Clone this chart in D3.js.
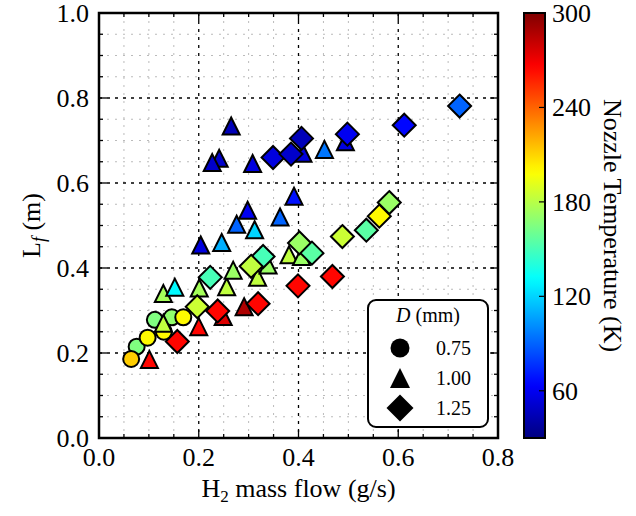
<!DOCTYPE html>
<html><head><meta charset="utf-8">
<script src="https://cdn.jsdelivr.net/npm/d3@7"></script>
<style>body{margin:0;background:#fff}svg{display:block}text{font-family:"Liberation Serif","Times New Roman",serif;fill:#000}</style>
</head><body><svg id="c" width="636" height="516"></svg>
<script>
// D = 0.75 mm (circles)
const circleFlow = [0.0755, 0.0645, 0.112, 0.0975, 0.130, 0.146, 0.169];
const circleLf   = [0.215, 0.186, 0.278, 0.236, 0.250, 0.284, 0.284];
const circleTemp = [165, 212, 165, 200, 200, 170, 200];
// D = 1.00 mm (triangles)
const triFlow = [0.101, 0.129, 0.129, 0.152, 0.200, 0.201, 0.204, 0.241, 0.227, 0.246, 0.249, 0.256, 0.265, 0.269, 0.276, 0.291, 0.298, 0.308, 0.312, 0.318, 0.339, 0.363, 0.381, 0.391, 0.406, 0.409, 0.452, 0.494];
const triLf   = [0.185, 0.270, 0.340, 0.355, 0.262, 0.353, 0.454, 0.658, 0.648, 0.460, 0.286, 0.356, 0.734, 0.395, 0.503, 0.309, 0.536, 0.646, 0.490, 0.378, 0.407, 0.520, 0.431, 0.569, 0.427, 0.670, 0.679, 0.697];
const triTemp = [265, 182, 175, 130, 265, 175, 55, 50, 50, 110, 275, 182, 45, 172, 90, 288, 60, 55, 120, 182, 172, 90, 182, 68, 172, 55, 95, 55];
// D = 1.25 mm (diamonds)
const diaFlow = [0.157, 0.197, 0.223, 0.238, 0.329, 0.305, 0.319, 0.406, 0.349, 0.385, 0.399, 0.402, 0.427, 0.468, 0.488, 0.498, 0.536, 0.562, 0.582, 0.612, 0.723];
const diaLf   = [0.227, 0.309, 0.378, 0.299, 0.427, 0.404, 0.316, 0.705, 0.660, 0.668, 0.358, 0.459, 0.435, 0.380, 0.474, 0.715, 0.489, 0.522, 0.554, 0.736, 0.781];
const diaTemp = [265, 185, 150, 265, 150, 182, 265, 45, 55, 50, 265, 172, 155, 265, 185, 60, 155, 200, 172, 65, 90];

const xTicks = [0.0, 0.2, 0.4, 0.6, 0.8];
const yTicks = [0.0, 0.2, 0.4, 0.6, 0.8, 1.0];
const cTicks = [60, 120, 180, 240, 300];
const legendLabels = ["0.75", "1.00", "1.25"];

const svg = d3.select("#c");
const L = 99, R = 498, T = 13, B = 438;
const x = d3.scaleLinear().domain([0, 0.8]).range([L, R]);
const y = d3.scaleLinear().domain([0, 1]).range([B, T]);
const tMin = 30, tMax = 300;
function jet(v) {
  const t = Math.max(0, Math.min(1, (v - tMin) / (tMax - tMin)));
  const cl = u => Math.max(0, Math.min(1, u));
  const r = cl(1.5 - Math.abs(4 * t - 3)), g = cl(1.5 - Math.abs(4 * t - 2)), b = cl(1.5 - Math.abs(4 * t - 1));
  return d3.rgb(r * 255, g * 255, b * 255).toString();
}

// grids
const minorX = d3.range(0, 0.8001, 0.05).filter(v => Math.abs(v / 0.2 - Math.round(v / 0.2)) > 1e-6);
const minorY = d3.range(0, 1.0001, 0.05).filter(v => Math.abs(v / 0.2 - Math.round(v / 0.2)) > 1e-6);
const g = svg.append("g");
g.selectAll(".mgx").data(minorX).join("line").attr("x1", d => x(d)).attr("x2", d => x(d)).attr("y1", T).attr("y2", B)
  .attr("stroke", "#bbb").attr("stroke-width", 1).attr("stroke-dasharray", "2,6");
g.selectAll(".mgy").data(minorY).join("line").attr("y1", d => y(d)).attr("y2", d => y(d)).attr("x1", L).attr("x2", R)
  .attr("stroke", "#bbb").attr("stroke-width", 1).attr("stroke-dasharray", "2,6");
g.selectAll(".gx").data(xTicks.slice(1, -1)).join("line").attr("x1", d => x(d)).attr("x2", d => x(d)).attr("y1", T).attr("y2", B)
  .attr("stroke", "#000").attr("stroke-width", 1.3).attr("stroke-dasharray", "3,5");
g.selectAll(".gy").data(yTicks.slice(1, -1)).join("line").attr("y1", d => y(d)).attr("y2", d => y(d)).attr("x1", L).attr("x2", R)
  .attr("stroke", "#000").attr("stroke-width", 1.3).attr("stroke-dasharray", "3,5");

// ticks (inward, all sides)
const tk = svg.append("g").attr("stroke", "#000").attr("stroke-width", 1.3);
[[B, -1], [T, 1]].forEach(([yy, dir]) => {
  tk.selectAll(null).data(xTicks).join("line").attr("x1", d => x(d)).attr("x2", d => x(d)).attr("y1", yy).attr("y2", yy + dir * 8);
  tk.selectAll(null).data(minorX).join("line").attr("x1", d => x(d)).attr("x2", d => x(d)).attr("y1", yy).attr("y2", yy + dir * 4);
});
[[L, 1], [R, -1]].forEach(([xx, dir]) => {
  tk.selectAll(null).data(yTicks).join("line").attr("y1", d => y(d)).attr("y2", d => y(d)).attr("x1", xx).attr("x2", xx + dir * 8);
  tk.selectAll(null).data(minorY).join("line").attr("y1", d => y(d)).attr("y2", d => y(d)).attr("x1", xx).attr("x2", xx + dir * 4);
});

// tick labels
const FS = 26;
svg.selectAll(".xl").data(xTicks).join("text").attr("x", d => x(d)).attr("y", 466).attr("text-anchor", "middle")
  .attr("font-size", FS).text(d => d.toFixed(1));
svg.selectAll(".yl").data(yTicks).join("text").attr("x", 89).attr("y", d => y(d) + 9).attr("text-anchor", "end")
  .attr("font-size", FS).text(d => d.toFixed(1));

// axis titles
const xt = svg.append("text").attr("x", (L + R) / 2).attr("y", 497).attr("text-anchor", "middle").attr("font-size", FS);
xt.append("tspan").text("H");
xt.append("tspan").attr("font-size", 17).attr("dy", 5).text("2");
xt.append("tspan").attr("dy", -5).text(" mass flow (g/s)");
const yt = svg.append("text").attr("transform", `translate(40,${(T + B) / 2}) rotate(-90)`).attr("text-anchor", "middle").attr("font-size", FS);
yt.append("tspan").text("L");
yt.append("tspan").attr("font-size", 18).attr("font-style", "italic").attr("dy", 5).text("f");
yt.append("tspan").attr("dy", -5).text(" (m)");

// markers
const stroke = "#000", sw = 2;
const pts = svg.append("g");
pts.selectAll(".c").data(circleFlow.map((f, i) => ({ f, l: circleLf[i], t: circleTemp[i] }))).join("circle")
  .attr("cx", d => x(d.f)).attr("cy", d => y(d.l)).attr("r", 8)
  .attr("fill", d => jet(d.t)).attr("stroke", stroke).attr("stroke-width", sw);
const tri = (cx, cy, s) => `M${cx},${cy - s}L${cx + s},${cy + s}L${cx - s},${cy + s}Z`;
pts.selectAll(".t").data(triFlow.map((f, i) => ({ f, l: triLf[i], t: triTemp[i] }))).join("path")
  .attr("d", d => tri(x(d.f), y(d.l), 8.5))
  .attr("fill", d => jet(d.t)).attr("stroke", stroke).attr("stroke-width", sw).attr("stroke-linejoin", "miter");
const dia = (cx, cy, s) => `M${cx},${cy - s}L${cx + s},${cy}L${cx},${cy + s}L${cx - s},${cy}Z`;
pts.selectAll(".d").data(diaFlow.map((f, i) => ({ f, l: diaLf[i], t: diaTemp[i] }))).join("path")
  .attr("d", d => dia(x(d.f), y(d.l), 11.5))
  .attr("fill", d => jet(d.t)).attr("stroke", stroke).attr("stroke-width", sw);

// frame
svg.append("rect").attr("x", L).attr("y", T).attr("width", R - L).attr("height", B - T)
  .attr("fill", "none").attr("stroke", "#000").attr("stroke-width", 2.5);

// legend
const lg = svg.append("g");
lg.append("rect").attr("x", 368).attr("y", 300).attr("width", 120).attr("height", 127).attr("rx", 8)
  .attr("fill", "#fff").attr("stroke", "#000").attr("stroke-width", 2);
const lt = lg.append("text").attr("x", 428).attr("y", 322).attr("text-anchor", "middle").attr("font-size", 20);
lt.append("tspan").attr("font-style", "italic").text("D");
lt.append("tspan").text(" (mm)");
const ly = [348, 378, 408];
lg.append("circle").attr("cx", 400).attr("cy", ly[0]).attr("r", 9.5).attr("fill", "#000");
lg.append("path").attr("d", tri(400, ly[1], 10)).attr("fill", "#000");
lg.append("path").attr("d", dia(400, ly[2], 13.5)).attr("fill", "#000");
lg.selectAll(".lt").data(legendLabels).join("text").attr("x", 436).attr("y", (d, i) => ly[i] + 7).attr("font-size", 20).text(d => d);

// colorbar
const cx0 = 524, cw = 21;
const cy = d3.scaleLinear().domain([tMin, tMax]).range([B, T]);
const defs = svg.append("defs");
const grad = defs.append("linearGradient").attr("id", "jet").attr("x1", 0).attr("y1", 1).attr("x2", 0).attr("y2", 0);
d3.range(0, 1.0001, 0.02).forEach(s => grad.append("stop").attr("offset", s).attr("stop-color", jet(tMin + s * (tMax - tMin))));
svg.append("rect").attr("x", cx0).attr("y", T).attr("width", cw).attr("height", B - T).attr("fill", "url(#jet)")
  .attr("stroke", "#000").attr("stroke-width", 2);
svg.selectAll(".ct").data(cTicks).join("line").attr("x1", cx0 + cw - 6).attr("x2", cx0 + cw).attr("y1", d => cy(d)).attr("y2", d => cy(d))
  .attr("stroke", "#000").attr("stroke-width", 1.2);
svg.selectAll(".cl").data(cTicks).join("text").attr("x", 552).attr("y", d => cy(d) + 9).attr("font-size", FS).text(d => d);
svg.append("text").attr("transform", `translate(604,${(T + B) / 2}) rotate(90)`).attr("text-anchor", "middle")
  .attr("font-size", FS).text("Nozzle Temperature (K)");
</script></body></html>
